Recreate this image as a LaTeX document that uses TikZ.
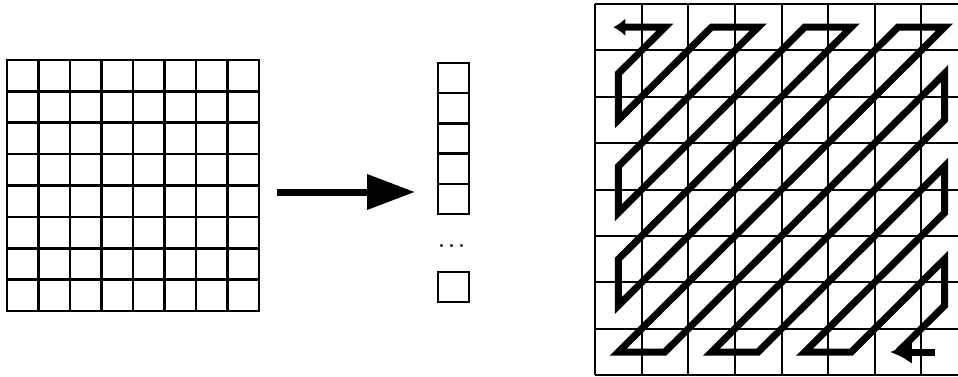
\documentclass[tikz,border=0pt]{standalone}
\usepackage{fontspec}
\usepackage{tikz}
\usetikzlibrary{arrows.meta, positioning, calc}
\tikzset{
	cellbox/.style  ={rectangle, draw=black, line width=2.4pt, minimum width=31pt, minimum height=30.2pt, inner sep=0pt, outer sep=0pt},
	gridarea/.style ={rectangle, draw=none, inner sep=0pt, outer sep=0pt},
	blkline/.style  ={line width=2.6pt, line cap=rect},
	scanline/.style ={line width=2pt},
	zigzag/.style   ={line width=7pt, line join=miter},
	bigarrow/.style ={-{Triangle[length=48pt, width=34pt]}, line width=7pt},
}

\begin{document}
\begin{tikzpicture}[x=1pt, y=-1pt]
	\useasboundingbox (0,0) rectangle (958,376);
	% 8x8 block
	\node[gridarea, minimum width=252pt, minimum height=251pt] (blk) at (133,185.5) {};
	\foreach \k in {0,...,8} {
		\draw[blkline] ($(blk.north west)!\k/8!(blk.north east)$) -- ($(blk.south west)!\k/8!(blk.south east)$);
		\draw[blkline] ($(blk.north west)!\k/8!(blk.south west)$) -- ($(blk.north east)!\k/8!(blk.south east)$);
	}
	% vector of coefficients
	\node[cellbox] (c1) at (453.5,78.1) {};
	\node[cellbox, below=0pt of c1] (c2) {};
	\node[cellbox, below=0pt of c2] (c3) {};
	\node[cellbox, below=0pt of c3] (c4) {};
	\node[cellbox, below=0pt of c4] (c5) {};
	\node[cellbox, below=58pt of c5] (cn) {};
	\node[anchor=base, inner sep=0pt] (dots) at ($(c5.south)!0.5!(cn.north)+(-1.5,4)$) {\fontsize{36pt}{40pt}\selectfont .\kern1pt.\kern1pt.};
	\draw[bigarrow, shorten <=18pt, shorten >=23pt] ([yshift=-6.5pt]blk.east) -- ([yshift=-6.5pt]blk.east -| c5.west);
	% zigzag scan
	\begin{scope}
		\clip (0,0) rectangle (958,376);
		\node[gridarea, minimum width=373pt, minimum height=371pt] (scan) at (781.5,189.5) {};
		\foreach \k in {0,...,8} {
			\draw[scanline] ($(scan.north west)!\k/8!(scan.north east)$) -- ($(scan.south west)!\k/8!(scan.south east)$);
			\draw[scanline] ($(scan.north west)!\k/8!(scan.south west)$) -- ($(scan.north east)!\k/8!(scan.south east)$);
		}
		\foreach \i in {0,...,7}
			\foreach \j in {0,...,7}
				\coordinate (z-\i-\j) at ($(scan.north west)+(\j*46.6+23.3, \i*46.4+23.2)$);
		\draw[zigzag, {Latex[length=12pt, width=18pt]}-, shorten <=-5pt]
			(z-0-0) -- (z-0-1) -- (z-1-0) -- (z-2-0) -- (z-0-2) -- (z-0-3) -- (z-3-0) -- (z-4-0)
			-- (z-0-4) -- (z-0-5) -- (z-5-0) -- (z-6-0) -- (z-0-6) -- (z-0-7) -- (z-7-0) -- (z-7-1)
			-- (z-1-7) -- (z-2-7) -- (z-7-2) -- (z-7-3) -- (z-3-7) -- (z-4-7) -- (z-7-4) -- (z-7-5)
			-- (z-5-7) -- (z-6-7) -- (z-7-6);
		\draw[zigzag, -{Latex[length=22pt, width=24pt]}, shorten <=10pt, shorten >=-8pt] (z-7-7) -- (z-7-6);
	\end{scope}
\end{tikzpicture}
\end{document}
